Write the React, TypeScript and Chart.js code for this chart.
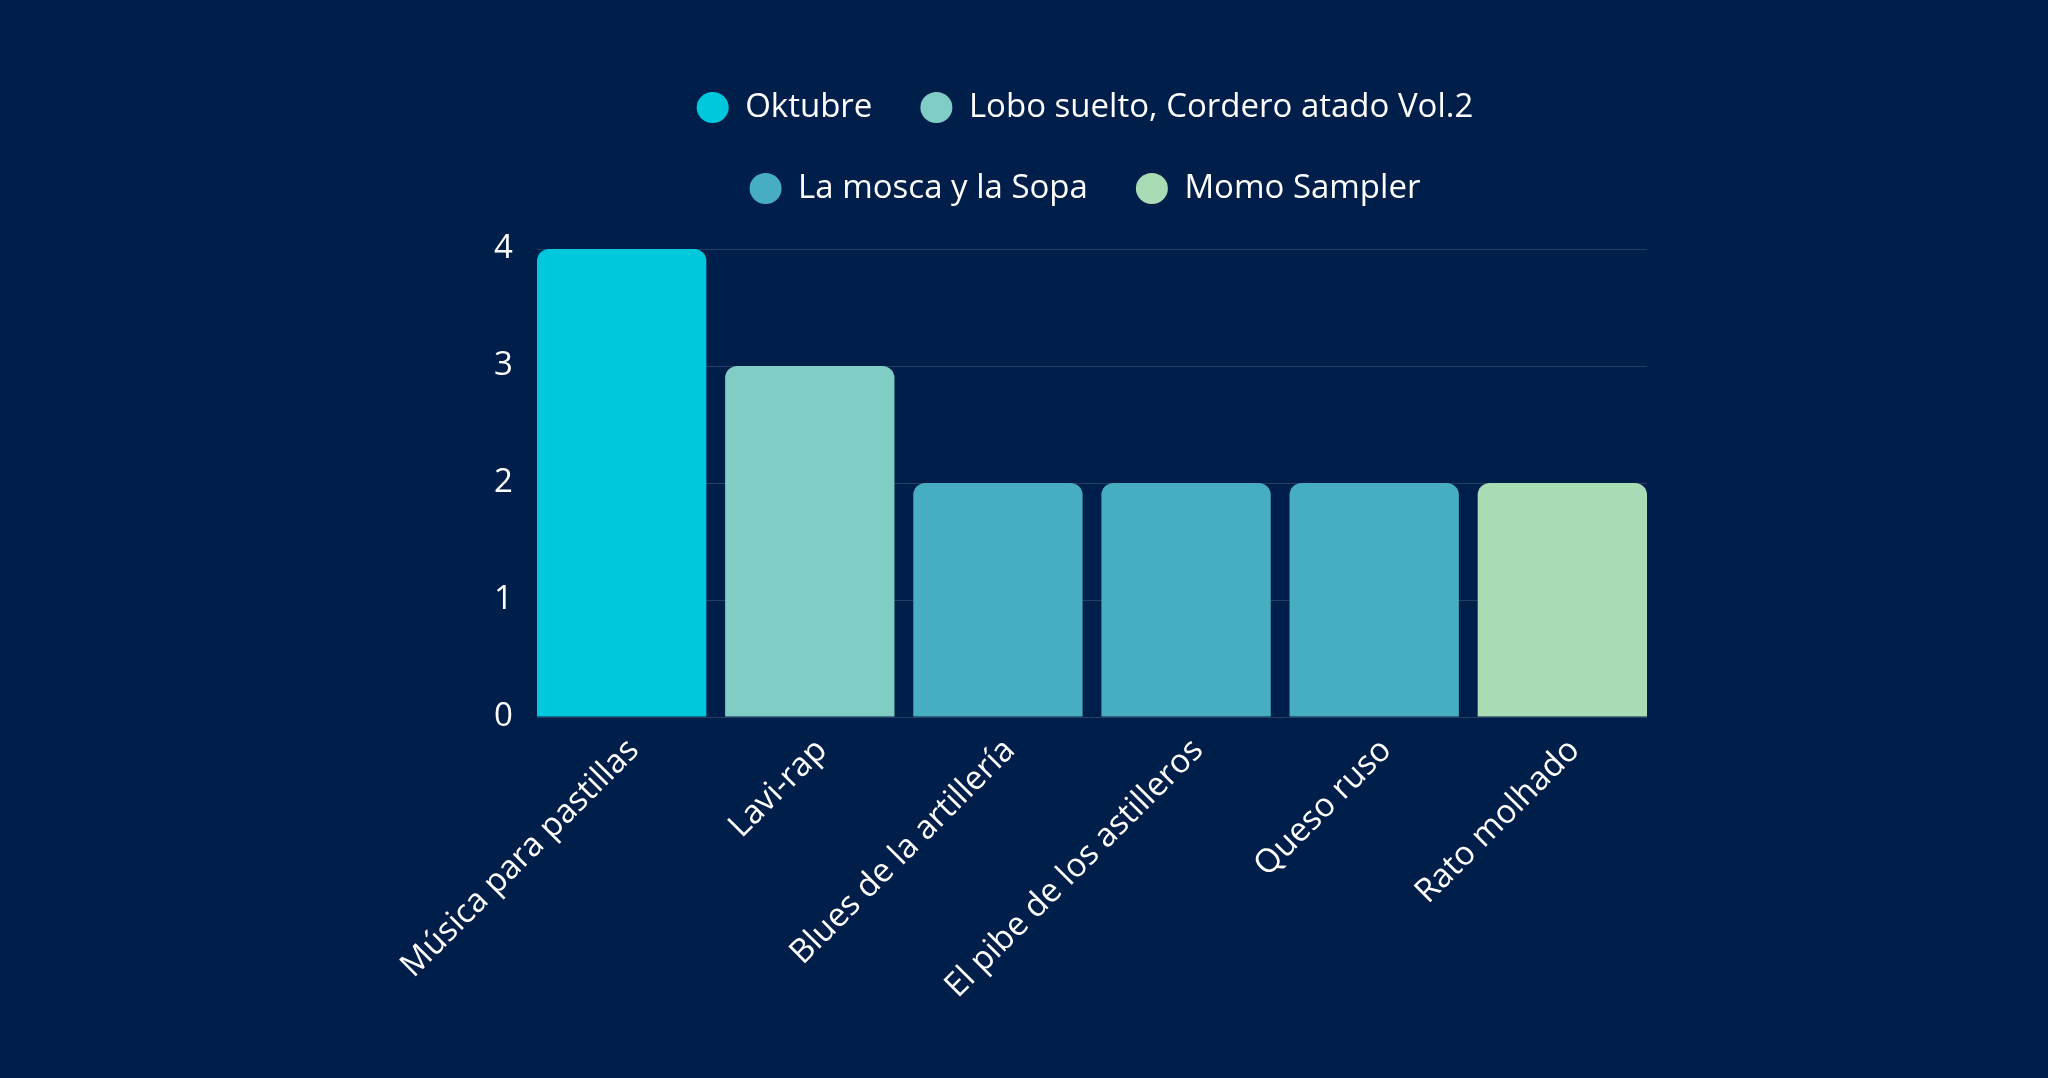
import React, { useRef, useEffect } from 'react';
import { Chart, registerables } from 'chart.js';

Chart.register(...registerables);

// songs on the x axis
const songs = [
  'Música para pastillas',
  'Lavi-rap',
  'Blues de la artillería',
  'El pibe de los astilleros',
  'Queso ruso',
  'Rato molhado',
];

// one series per album; each song belongs to a single album
const oktubre = [4, null, null, null, null, null];
const loboSuelto = [null, 3, null, null, null, null];
const laMosca = [null, null, 2, 2, 2, null];
const momoSampler = [null, null, null, null, null, 2];

const yTicks = [0, 1, 2, 3, 4];

const BG = '#001e4a';

// x positions are the song indexes, so the outer bars can sit flush with the plot edges
const toPoints = (values: (number | null)[]) => values.map((y, i) => ({ x: i, y }));

// extra room between the legend and the plot
const legendGap = {
  id: 'legendGap',
  beforeInit(chart: any) {
    const legend = chart.legend;
    if (!legend) return;
    const fit = legend.fit;
    legend.fit = function () {
      fit.call(this);
      this.height += 34;
    };
  },
};

const App: React.FC = () => {
  const canvasRef = useRef<HTMLCanvasElement>(null);
  const chartRef = useRef<Chart<'bar'> | null>(null);

  useEffect(() => {
    if (!canvasRef.current) return;
    if (chartRef.current) chartRef.current.destroy();

    Chart.defaults.font.family = '"Open Sans", sans-serif';
    Chart.defaults.color = '#ffffff';

    chartRef.current = new Chart(canvasRef.current, {
      type: 'bar',
      data: {
        datasets: [
          { label: 'Oktubre', data: toPoints(oktubre), backgroundColor: '#00c8dc' },
          { label: 'Lobo suelto, Cordero atado Vol.2', data: toPoints(loboSuelto), backgroundColor: '#7fcdc5' },
          { label: 'La mosca y la Sopa', data: toPoints(laMosca), backgroundColor: '#47aec1' },
          { label: 'Momo Sampler', data: toPoints(momoSampler), backgroundColor: '#a9dcb5' },
        ],
      } as any,
      options: {
        animation: false,
        responsive: true,
        maintainAspectRatio: false,
        datasets: {
          bar: {
            barPercentage: 0.9,
            categoryPercentage: 1,
            borderRadius: 12,
            borderSkipped: 'start',
          },
        },
        layout: {
          padding: { left: 523, right: 401, top: 43, bottom: 66 },
        },
        plugins: {
          legend: {
            position: 'top',
            labels: {
              color: '#ffffff',
              font: { size: 33 },
              usePointStyle: true,
              pointStyle: 'circle',
              boxHeight: 22,
              pointStyleWidth: 32,
              padding: 48,
            },
          },
          tooltip: { enabled: false },
        },
        scales: {
          x: {
            type: 'linear',
            stacked: true,
            offset: false,
            min: -0.45,
            max: songs.length - 0.55,
            afterBuildTicks: (scale: any) => {
              scale.ticks = songs.map((_, i) => ({ value: i }));
            },
            grid: { display: false },
            border: { display: false },
            ticks: {
              autoSkip: false,
              callback: (v: any) => songs[v] ?? '',
              color: '#ffffff',
              font: { size: 33 },
              minRotation: 45,
              maxRotation: 45,
              padding: 6,
              labelOffset: 12,
            },
          },
          y: {
            stacked: true,
            min: yTicks[0],
            max: yTicks[yTicks.length - 1],
            afterFit: (scale: any) => {
              scale.width = 14;
            },
            grid: { color: 'rgba(255,255,255,0.15)', drawTicks: false },
            border: { display: false },
            ticks: {
              stepSize: 1,
              color: '#ffffff',
              font: { size: 33 },
              mirror: true,
              padding: -43,
            },
          },
        },
      },
      plugins: [legendGap],
    });

    return () => {
      if (chartRef.current) {
        chartRef.current.destroy();
        chartRef.current = null;
      }
    };
  }, []);

  return (
    <div style={{ position: 'fixed', inset: 0, background: BG }}>
      <canvas ref={canvasRef} />
    </div>
  );
};

export default App;
